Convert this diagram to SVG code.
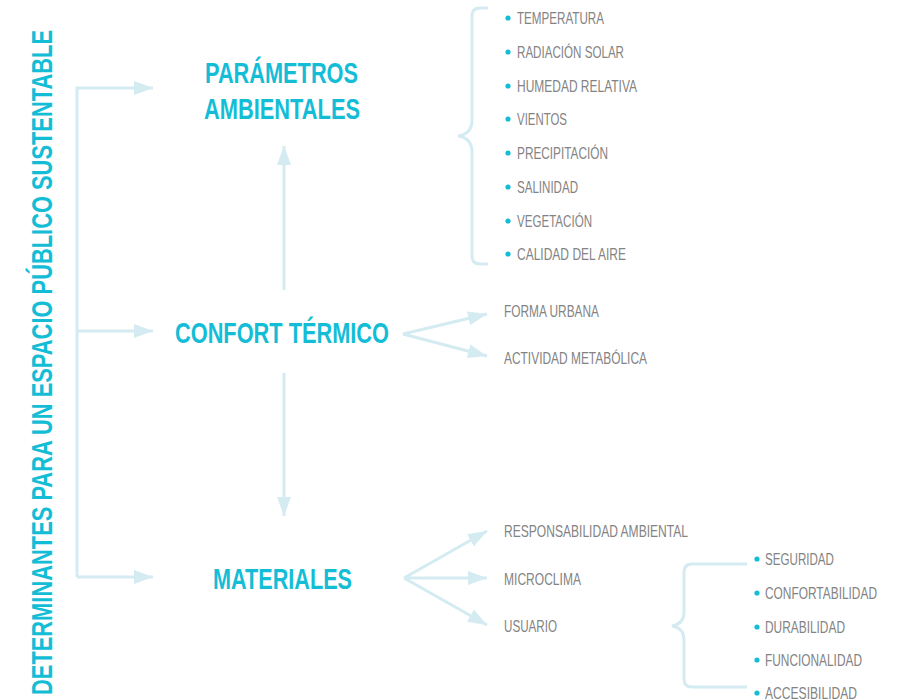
<svg xmlns="http://www.w3.org/2000/svg" width="898" height="700" viewBox="0 0 898 700">
<defs>
<marker id="ah" markerUnits="userSpaceOnUse" markerWidth="20" markerHeight="14" refX="19" refY="7" orient="auto">
<path d="M0,0 L19,7 L0,14 Z" fill="#d4ebf2"/>
</marker>
<style>
.ln{fill:none;stroke:#d4ebf2;stroke-width:3}
.hd{font-family:"Liberation Sans",Arial,sans-serif;font-weight:bold;font-size:30px;fill:#14bdd6}
.it{font-family:"Liberation Sans",Arial,sans-serif;font-size:16.5px;fill:#838383}
.bl{fill:#14bdd6}
</style>
</defs>
<rect width="898" height="700" fill="#fff"/>
<g id="title">
<text class="hd" transform="translate(52,695) rotate(-90)" x="0" y="0" textLength="665" lengthAdjust="spacingAndGlyphs">DETERMINANTES PARA UN ESPACIO PÚBLICO SUSTENTABLE</text>
</g>
<g id="connectors">
<path class="ln" d="M77,577 L77,88 L153,88" marker-end="url(#ah)"/>
<path class="ln" d="M77,331 L153,331" marker-end="url(#ah)"/>
<path class="ln" d="M77,577 L153,577" marker-end="url(#ah)"/>
<path class="ln" d="M284,290 L284,146" marker-end="url(#ah)"/>
<path class="ln" d="M284,373 L284,516" marker-end="url(#ah)"/>
<path class="ln" d="M403,334 L487,314" marker-end="url(#ah)"/>
<path class="ln" d="M403,334 L487,356" marker-end="url(#ah)"/>
<path class="ln" d="M404,578 L487,531" marker-end="url(#ah)"/>
<path class="ln" d="M404,578 L487,578" marker-end="url(#ah)"/>
<path class="ln" d="M404,578 L487,625" marker-end="url(#ah)"/>
<path class="ln" d="M488,8 L480,8 Q472,8 472,16 L472,120 Q472,134 458,136 Q472,138 472,152 L472,256 Q472,264 480,264 L488,264"/>
<path class="ln" d="M747,564 L692,564 Q684,564 684,572 L684,612 Q684,624 672,626 Q684,628 684,640 L684,679 Q684,687 692,687 L747,687"/>
</g>
<g id="parametros">
<text class="hd" x="205" y="83" textLength="153" lengthAdjust="spacingAndGlyphs">PARÁMETROS</text>
<text class="hd" x="204" y="119" textLength="156" lengthAdjust="spacingAndGlyphs">AMBIENTALES</text>
</g>
<g id="confort">
<text class="hd" x="175" y="343" textLength="214" lengthAdjust="spacingAndGlyphs">CONFORT TÉRMICO</text>
</g>
<g id="materiales">
<text class="hd" x="213" y="589" textLength="139" lengthAdjust="spacingAndGlyphs">MATERIALES</text>
</g>
<g id="param-items">
<circle class="bl" cx="508" cy="18" r="2.6"/><text class="it" x="517" y="24" textLength="87" lengthAdjust="spacingAndGlyphs">TEMPERATURA</text>
<circle class="bl" cx="508" cy="52" r="2.6"/><text class="it" x="517" y="58" textLength="107" lengthAdjust="spacingAndGlyphs">RADIACIÓN SOLAR</text>
<circle class="bl" cx="508" cy="86" r="2.6"/><text class="it" x="517" y="92" textLength="120" lengthAdjust="spacingAndGlyphs">HUMEDAD RELATIVA</text>
<circle class="bl" cx="508" cy="119" r="2.6"/><text class="it" x="517" y="125" textLength="50" lengthAdjust="spacingAndGlyphs">VIENTOS</text>
<circle class="bl" cx="508" cy="153" r="2.6"/><text class="it" x="517" y="159" textLength="91" lengthAdjust="spacingAndGlyphs">PRECIPITACIÓN</text>
<circle class="bl" cx="508" cy="187" r="2.6"/><text class="it" x="517" y="193" textLength="61" lengthAdjust="spacingAndGlyphs">SALINIDAD</text>
<circle class="bl" cx="508" cy="221" r="2.6"/><text class="it" x="517" y="227" textLength="75" lengthAdjust="spacingAndGlyphs">VEGETACIÓN</text>
<circle class="bl" cx="508" cy="254" r="2.6"/><text class="it" x="517" y="260" textLength="109" lengthAdjust="spacingAndGlyphs">CALIDAD DEL AIRE</text>
</g>
<g id="confort-items">
<text class="it" x="504" y="317" textLength="95" lengthAdjust="spacingAndGlyphs">FORMA URBANA</text>
<text class="it" x="504" y="364" textLength="143" lengthAdjust="spacingAndGlyphs">ACTIVIDAD METABÓLICA</text>
</g>
<g id="materiales-items">
<text class="it" x="504" y="537" textLength="184" lengthAdjust="spacingAndGlyphs">RESPONSABILIDAD AMBIENTAL</text>
<text class="it" x="504" y="585" textLength="77" lengthAdjust="spacingAndGlyphs">MICROCLIMA</text>
<text class="it" x="504" y="632" textLength="53" lengthAdjust="spacingAndGlyphs">USUARIO</text>
</g>
<g id="usuario-items">
<circle class="bl" cx="757" cy="559" r="2.6"/><text class="it" x="765" y="565" textLength="69" lengthAdjust="spacingAndGlyphs">SEGURIDAD</text>
<circle class="bl" cx="757" cy="593" r="2.6"/><text class="it" x="765" y="599" textLength="112" lengthAdjust="spacingAndGlyphs">CONFORTABILIDAD</text>
<circle class="bl" cx="757" cy="627" r="2.6"/><text class="it" x="765" y="633" textLength="80" lengthAdjust="spacingAndGlyphs">DURABILIDAD</text>
<circle class="bl" cx="757" cy="660" r="2.6"/><text class="it" x="765" y="666" textLength="97" lengthAdjust="spacingAndGlyphs">FUNCIONALIDAD</text>
<circle class="bl" cx="757" cy="693" r="2.6"/><text class="it" x="765" y="699" textLength="92" lengthAdjust="spacingAndGlyphs">ACCESIBILIDAD</text>
</g>
</svg>
